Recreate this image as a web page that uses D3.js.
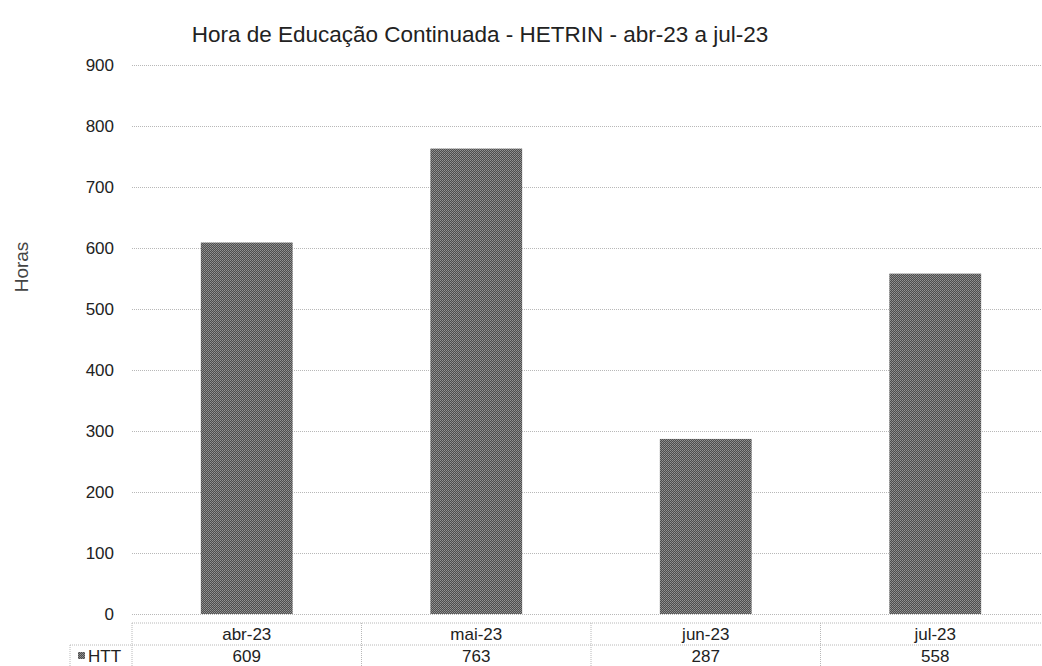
<!DOCTYPE html>
<html>
<head>
<meta charset="utf-8">
<script src="https://cdn.jsdelivr.net/npm/d3@7"></script>
<style>
  body { margin: 0; background: #fff; }
  svg { font-family: "Liberation Sans", Arial, sans-serif; }
</style>
</head>
<body>
<svg id="chart" width="1042" height="666"></svg>
<script>
// data
var months = ['abr-23', 'mai-23', 'jun-23', 'jul-23'];
var htt = [609, 763, 287, 558];
var yTicks = [0, 100, 200, 300, 400, 500, 600, 700, 800, 900];
var seriesName = 'HTT';

var svg = d3.select('#chart');
var plotLeft = 132, plotRight = 1050, plotTop = 65, plotBottom = 614;
var gridColor = '#b8b8b8';

var x = d3.scaleBand().domain(months).range([plotLeft, plotRight]).paddingInner(0.6).paddingOuter(0.3);
var xCell = d3.scaleBand().domain(months).range([plotLeft, plotRight]);
var y = d3.scaleLinear().domain([0, 900]).range([plotBottom, plotTop]);

// bar texture
var defs = svg.append('defs');
var pat = defs.append('pattern')
  .attr('id', 'dots')
  .attr('width', 2).attr('height', 2)
  .attr('patternUnits', 'userSpaceOnUse');
pat.append('rect').attr('width', 2).attr('height', 2).attr('fill', '#4e4e4e');
pat.append('rect').attr('width', 1).attr('height', 1).attr('fill', '#949494');
pat.append('rect').attr('x', 1).attr('y', 1).attr('width', 1).attr('height', 1).attr('fill', '#858585');

// title
svg.append('text')
  .attr('x', 480).attr('y', 42)
  .attr('text-anchor', 'middle')
  .style('font-size', '22.5px')
  .attr('fill', '#222')
  .text('Hora de Educação Continuada - HETRIN - abr-23 a jul-23');

// y axis title
svg.append('text')
  .attr('transform', 'translate(28,267) rotate(-90)')
  .attr('text-anchor', 'middle')
  .style('font-size', '19px')
  .attr('fill', '#444')
  .text('Horas');

// gridlines + y tick labels
var yAxis = d3.axisLeft(y).tickValues(yTicks).tickSize(-(plotRight - plotLeft)).tickPadding(18);
var gy = svg.append('g').attr('transform', 'translate(' + plotLeft + ',0)').call(yAxis);
gy.select('.domain').remove();
gy.selectAll('.tick line')
  .attr('stroke', gridColor)
  .attr('stroke-dasharray', '1,1');
gy.selectAll('.tick text')
  .style('font-size', '17px')
  .style('font-family', '"Liberation Sans", Arial, sans-serif')
  .attr('fill', '#222');

// bars
svg.selectAll('rect.bar')
  .data(htt)
  .enter()
  .append('rect')
  .attr('class', 'bar')
  .attr('x', function(d, i){ return x(months[i]); })
  .attr('y', function(d){ return y(d); })
  .attr('width', x.bandwidth())
  .attr('height', function(d){ return y(0) - y(d); })
  .attr('fill', 'url(#dots)');

// data table
var rowTop = 623, rowMid = 645, rowBot = 668, legendLeft = 70;
var tbl = svg.append('g')
  .attr('stroke', gridColor)
  .attr('stroke-dasharray', '1,1')
  .attr('fill', 'none');
tbl.append('line').attr('x1', plotLeft).attr('x2', plotRight).attr('y1', rowTop).attr('y2', rowTop);
tbl.append('line').attr('x1', legendLeft).attr('x2', plotRight).attr('y1', rowMid).attr('y2', rowMid);
tbl.append('line').attr('x1', legendLeft).attr('x2', legendLeft).attr('y1', rowMid).attr('y2', rowBot);
tbl.selectAll('line.col')
  .data(months)
  .enter()
  .append('line')
  .attr('class', 'col')
  .attr('x1', function(d){ return xCell(d); })
  .attr('x2', function(d){ return xCell(d); })
  .attr('y1', rowTop).attr('y2', rowBot);

svg.selectAll('text.cat')
  .data(months)
  .enter()
  .append('text')
  .attr('class', 'cat')
  .attr('x', function(d){ return xCell(d) + xCell.bandwidth() / 2; })
  .attr('y', 640)
  .attr('text-anchor', 'middle')
  .style('font-size', '17px')
  .attr('fill', '#222')
  .text(function(d){ return d; });

svg.selectAll('text.val')
  .data(htt)
  .enter()
  .append('text')
  .attr('class', 'val')
  .attr('x', function(d, i){ return xCell(months[i]) + xCell.bandwidth() / 2; })
  .attr('y', 662)
  .attr('text-anchor', 'middle')
  .style('font-size', '17px')
  .attr('fill', '#222')
  .text(function(d){ return d; });

// legend key
svg.append('rect')
  .attr('x', 78).attr('y', 652)
  .attr('width', 7).attr('height', 7)
  .attr('fill', 'url(#dots)');
svg.append('text')
  .attr('x', 88).attr('y', 662)
  .style('font-size', '17px')
  .attr('fill', '#222')
  .text(seriesName);
</script>
</body>
</html>
